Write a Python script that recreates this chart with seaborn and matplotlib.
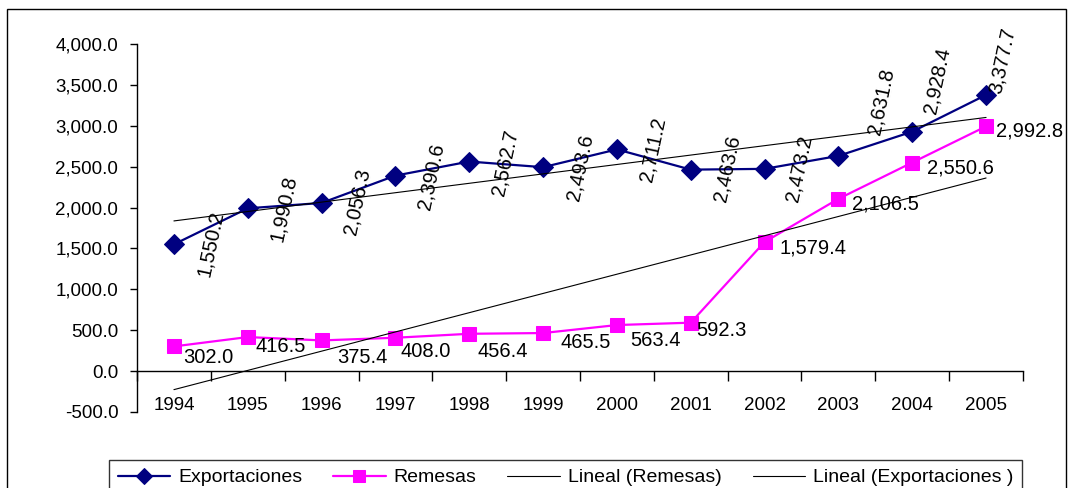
import numpy as np
import pandas as pd
import seaborn as sns
import matplotlib.pyplot as plt
from matplotlib.patches import Rectangle
from matplotlib.ticker import FixedLocator, FuncFormatter

years = ['1994', '1995', '1996', '1997', '1998', '1999',
         '2000', '2001', '2002', '2003', '2004', '2005']
exportaciones = [1550.2, 1990.8, 2056.3, 2390.6, 2562.7, 2493.6,
                 2711.2, 2463.6, 2473.2, 2631.8, 2928.4, 3377.7]
remesas = [302.0, 416.5, 375.4, 408.0, 456.4, 465.5,
           563.4, 592.3, 1579.4, 2106.5, 2550.6, 2992.8]

# label offsets (pixels) as placed in the original sheet
exp_off = [(37, 1), (36, 0), (36, 1), (36, -1), (36, -1), (37, 0),
           (36, 0), (36, 1), (35, 0), (43, 54), (25, 51), (16, 34)]
rem_off = [(9, -11), (8, -9), (16, -17), (5, -14), (8, -18), (17, -9),
           (13, -15), (6, -8), (15, -6), (14, -5), (15, -5), (10, -5)]

sns.set_theme(style='white', rc={'axes.edgecolor': 'black', 'text.color': 'black',
                                 'xtick.color': 'black', 'ytick.color': 'black'})
plt.rcParams['font.family'] = ['Liberation Sans', 'DejaVu Sans']

df = pd.DataFrame({'pos': np.arange(len(years)), 'Exportaciones': exportaciones,
                   'Remesas': remesas})

W, H = 1073, 488
fig = plt.figure(figsize=(W / 100, H / 100), dpi=100)
ax = fig.add_axes([137 / W, 1 - 412 / H, (1023 - 137) / W, (412 - 44) / H])

sns.lineplot(data=df, x='pos', y='Exportaciones', ax=ax, color='#000080', lw=1.6,
             marker='D', markersize=10, markeredgecolor='#000080', label='Exportaciones')
sns.lineplot(data=df, x='pos', y='Remesas', ax=ax, color='#FF00FF', lw=1.6,
             marker='s', markersize=10.5, markeredgecolor='#FF00FF', label='Remesas')
sns.regplot(data=df, x='pos', y='Remesas', ax=ax, scatter=False, ci=None, truncate=True,
            color='black', line_kws={'lw': 0.8}, label='Lineal (Remesas)')
sns.regplot(data=df, x='pos', y='Exportaciones', ax=ax, scatter=False, ci=None, truncate=True,
            color='black', line_kws={'lw': 0.8}, label='Lineal (Exportaciones )')

for i, v in enumerate(exportaciones):
    ax.annotate(f'{v:,.1f}', (i, v), xytext=exp_off[i], textcoords='offset pixels',
                rotation=78, ha='center', va='center', fontsize=14.5)
for i, v in enumerate(remesas):
    ax.annotate(f'{v:,.1f}', (i, v), xytext=rem_off[i], textcoords='offset pixels',
                ha='left', va='center', fontsize=14.5)

ax.set_xlim(-0.5, 11.5)
ax.set_ylim(-500, 4000)
ax.set_yticks(np.arange(-500, 4001, 500))
ax.yaxis.set_major_formatter(FuncFormatter(lambda v, p: f'{v:,.1f}'))
ax.set_xticks(np.arange(len(years)))
ax.set_xticklabels(years)
ax.xaxis.set_minor_locator(FixedLocator(np.arange(-0.5, 12, 1)))
ax.set_xlabel('')
ax.set_ylabel('')

ax.spines['top'].set_visible(False)
ax.spines['right'].set_visible(False)
ax.spines['bottom'].set_position(('data', 0))
for s in ['left', 'bottom']:
    ax.spines[s].set_linewidth(1)
ax.tick_params(axis='y', left=True, direction='out', length=5, width=1, pad=8.5, labelsize=13.5)
ax.tick_params(axis='x', which='major', bottom=True, length=0, pad=18.5, labelsize=13.5)
ax.tick_params(axis='x', which='minor', bottom=True, direction='out', length=7, width=1)

if ax.get_legend():
    ax.get_legend().remove()
handles, labels = ax.get_legend_handles_labels()
leg = fig.legend(handles, labels, loc='upper center', bbox_to_anchor=(565.5 / W, 1 - 460 / H),
                 ncol=4, frameon=True, fancybox=False, edgecolor='black', fontsize=14,
                 handlelength=2.7, handletextpad=0.4, columnspacing=1.6, borderpad=0.45,
                 borderaxespad=0, markerscale=0.85)
leg.get_frame().set_linewidth(1)

fig.add_artist(Rectangle((7 / W, -0.05), (1066 - 7) / W, 1 - 9 / H + 0.05,
                         transform=fig.transFigure, fill=False, ec='black', lw=1))

fig.savefig('out.png', dpi=100)
